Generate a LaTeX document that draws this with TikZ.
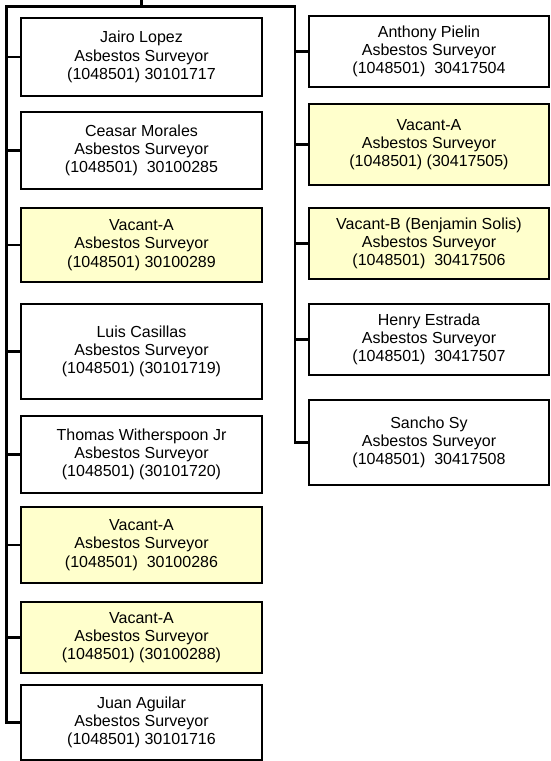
\documentclass[tikz,border=0pt]{standalone}
\usepackage{fontspec}
\setmainfont{Liberation Sans}
\definecolor{vacfill}{RGB}{255,255,204}
\begin{document}
\begin{tikzpicture}[x=1pt,y=-1pt,
  box/.style={draw=black,line width=1.9pt,fill=white,rectangle,inner sep=0pt,
    align=center,font=\fontsize{16}{18.3}\selectfont},
  lbox/.style={box,minimum width=241pt},
  rbox/.style={box,minimum width=240pt},
  vac/.style={fill=vacfill},
  conn/.style={draw=black,line width=2.2pt}]
\useasboundingbox[fill=white] (0,0) rectangle (551,761);
% connector points
\coordinate (mgrin) at (141.5,-2);
\coordinate (mgrbar) at (141.5,6.5);
\coordinate (hl) at (6.5,6.5);
\coordinate (hr) at (295,6.5);
% left column
\node[lbox,minimum height=78pt] (jairo) at (141.5,57) {Jairo Lopez\\Asbestos Surveyor\\(1048501) 30101717};
\node[lbox,minimum height=77pt] (ceasar) at (141.5,150.5) {Ceasar Morales\\Asbestos Surveyor\\(1048501)~~30100285};
\node[lbox,vac,minimum height=74pt] (vacl1) at (141.5,245) {Vacant-A\\Asbestos Surveyor\\(1048501) 30100289};
\node[lbox,minimum height=95pt] (luis) at (141.5,351.5) {Luis Casillas\\Asbestos Surveyor\\(1048501) (30101719)};
\node[lbox,minimum height=77pt] (thomas) at (141.5,454.5) {Thomas Witherspoon Jr\\Asbestos Surveyor\\(1048501) (30101720)};
\node[lbox,vac,minimum height=76pt] (vacl2) at (141.5,545) {Vacant-A\\Asbestos Surveyor\\(1048501)~~30100286};
\node[lbox,vac,minimum height=71pt] (vacl3) at (141.5,637.5) {Vacant-A\\Asbestos Surveyor\\(1048501) (30100288)};
\node[lbox,minimum height=75pt] (juan) at (141.5,722.5) {Juan Aguilar\\Asbestos Surveyor\\(1048501) 30101716};
% right column
\node[rbox,minimum height=71pt] (anthony) at (429,51.5) {Anthony Pielin\\Asbestos Surveyor\\(1048501)~~30417504};
\node[rbox,vac,minimum height=81pt] (vacr1) at (429,144.5) {Vacant-A\\Asbestos Surveyor\\(1048501) (30417505)};
\node[rbox,vac,minimum height=71pt] (vacr2) at (429,243.5) {Vacant-B (Benjamin Solis)\\Asbestos Surveyor\\(1048501)~~30417506};
\node[rbox,minimum height=71pt] (henry) at (429,339.5) {Henry Estrada\\Asbestos Surveyor\\(1048501)~~30417507};
\node[rbox,minimum height=85pt] (sancho) at (429,442.5) {Sancho Sy\\Asbestos Surveyor\\(1048501)~~30417508};
\draw[conn,line width=3pt] (mgrin) -- (mgrbar);
\draw[conn,line cap=rect] (hl) -- (hr);
\foreach \n in {jairo,ceasar,vacl1,luis,thomas,vacl2,vacl3,juan}
  \draw[conn] (hl) |- (\n.west);
\foreach \n in {anthony,vacr1,vacr2,henry,sancho}
  \draw[conn] (hr) |- (\n.west);
\end{tikzpicture}
\end{document}
